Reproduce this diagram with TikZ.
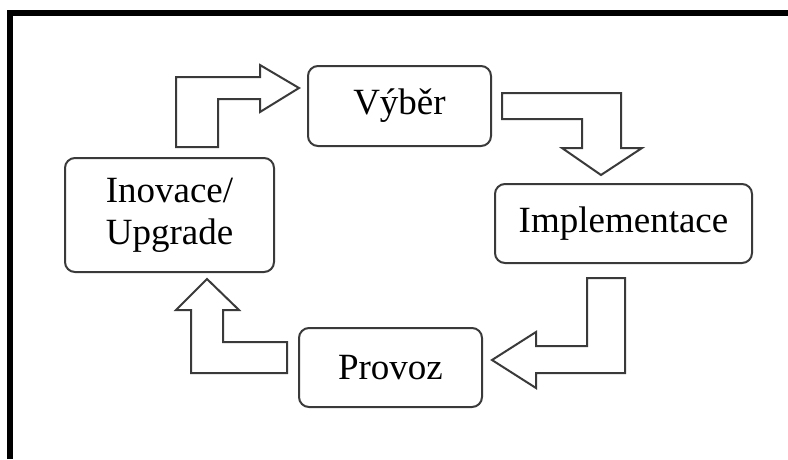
\documentclass[tikz,border=0pt]{standalone}
\usepackage{fontspec}
\setmainfont{Liberation Serif}
\usepackage{tikz}
\definecolor{edgegray}{HTML}{3A3A3A}

\tikzset{
  phase/.style={draw=edgegray, line width=2pt, rounded corners=10pt, fill=white,
    align=center, inner sep=0pt, font=\fontsize{37}{42}\selectfont},
  blockarrow/.style={draw=edgegray, line width=2pt, fill=white, line join=miter}
}

\begin{document}
\begin{tikzpicture}[x=1pt, y=-1pt]
\useasboundingbox (0,0) rectangle (788,459);
\draw[line width=6pt] (10,459) -- (10,13) -- (788,13);

\node[phase, minimum width=183pt, minimum height=80pt] (vyber) at (399.5,106) {V\'yb\v{e}r};
\node[phase, minimum width=209pt, minimum height=114pt] (inovace) at (169.5,215) {Inovace/\\Upgrade};
\node[phase, minimum width=257pt, minimum height=79pt] (impl) at (623.5,223.5) {Implementace};
\node[phase, minimum width=183pt, minimum height=79pt] (provoz) at (390.5,367.5) {Provoz};

% inovace -> vyber
\draw[blockarrow] (176,147) -- (176,77) -- (260,77) -- (260,65) -- (299,88) -- (260,112) -- (260,99) -- (218,99) -- (218,147) -- cycle;
% vyber -> implementace
\draw[blockarrow] (502,93) -- (621,93) -- (621,148) -- (642,148) -- (601,175) -- (562,148) -- (582,148) -- (582,119) -- (502,119) -- cycle;
% implementace -> provoz
\draw[blockarrow] (587,278) -- (625,278) -- (625,373) -- (536,373) -- (536,388) -- (492,360) -- (536,332) -- (536,346) -- (587,346) -- cycle;
% provoz -> inovace
\draw[blockarrow] (287,342) -- (287,373) -- (191,373) -- (191,310) -- (176,310) -- (207,279) -- (239,310) -- (223,310) -- (223,342) -- cycle;
\end{tikzpicture}
\end{document}
